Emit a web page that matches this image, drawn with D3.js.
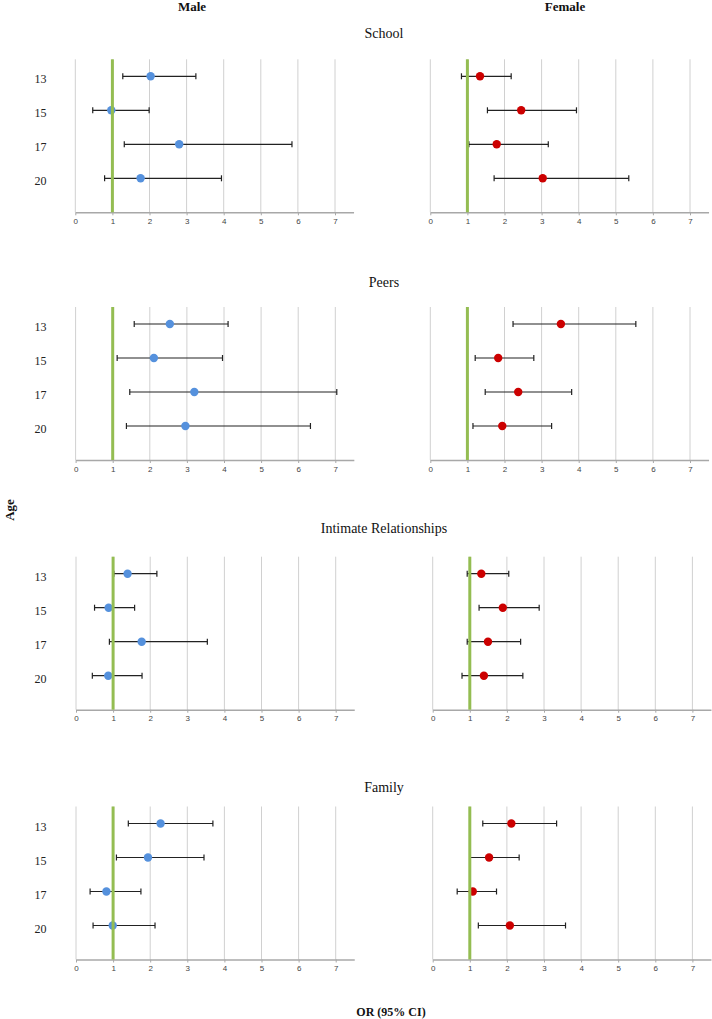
<!DOCTYPE html>
<html>
<head>
<meta charset="utf-8">
<script src="https://cdn.jsdelivr.net/npm/d3@7"></script>
<style>
  html, body { margin: 0; padding: 0; background: #fff; }
  svg { display: block; }
</style>
</head>
<body>
<svg id="chart" width="712" height="1019"></svg>
<script>
// ---------- data ----------
const ages = ["13", "15", "17", "20"];
const domains = ["School", "Peers", "Intimate Relationships", "Family"];
const sexes = ["Male", "Female"];
const xTicks = [0, 1, 2, 3, 4, 5, 6, 7];
const refValue = 1;

// each row: [OR, lower 95% CI, upper 95% CI], ages 13, 15, 17, 20
const maleSchool   = [[2.03, 1.28, 3.25], [0.97, 0.47, 1.99], [2.80, 1.32, 5.84], [1.76, 0.79, 3.94]];
const femaleSchool = [[1.34, 0.84, 2.18], [2.45, 1.54, 3.94], [1.79, 1.04, 3.18], [3.03, 1.72, 5.35]];
const malePeers    = [[2.54, 1.58, 4.11], [2.11, 1.12, 3.96], [3.20, 1.46, 7.04], [2.96, 1.37, 6.33]];
const femalePeers  = [[3.52, 2.23, 5.54], [1.83, 1.21, 2.79], [2.37, 1.48, 3.81], [1.94, 1.15, 3.27]];
const maleIntimate   = [[1.39, 1.02, 2.18], [0.88, 0.50, 1.58], [1.77, 0.90, 3.54], [0.87, 0.44, 1.78]];
const femaleIntimate = [[1.31, 0.93, 2.05], [1.89, 1.25, 2.87], [1.49, 0.93, 2.37], [1.38, 0.79, 2.43]];
const maleFamily   = [[2.28, 1.41, 3.69], [1.94, 1.09, 3.45], [0.82, 0.38, 1.75], [0.99, 0.46, 2.13]];
const femaleFamily = [[2.12, 1.35, 3.34], [1.52, 1.01, 2.33], [1.08, 0.66, 1.72], [2.08, 1.23, 3.58]];

const panelData = [
  [maleSchool, femaleSchool],
  [malePeers, femalePeers],
  [maleIntimate, femaleIntimate],
  [maleFamily, femaleFamily]
];

// ---------- layout / style ----------
const panelTops = [59.3, 307, 556.7, 806.5];
const titleY = [33, 282, 528, 787];
const panelX0 = [[75.3, 430.3], [75.6, 430.3], [76, 432.7], [76, 432.7]];
const unit = 37.1;
const plotH = 153;
const colors = ["#5591dd", "#cc0000"];
const serif = "'Liberation Serif', 'Times New Roman', serif";
const sans = "'Liberation Sans', Arial, sans-serif";

const svg = d3.select("#chart");

// headers
svg.selectAll("text.sex").data(sexes).join("text")
  .attr("class", "sex")
  .attr("x", (d, i) => i === 0 ? 192 : 565)
  .attr("y", 11)
  .attr("text-anchor", "middle")
  .style("font-family", serif).style("font-weight", "bold").style("font-size", "13px")
  .attr("fill", "#111")
  .text(d => d);

svg.append("text")
  .attr("transform", "translate(14,510) rotate(-90)")
  .attr("text-anchor", "middle")
  .style("font-family", serif).style("font-weight", "bold").style("font-size", "13px")
  .attr("fill", "#111")
  .text("Age");

svg.append("text")
  .attr("x", 391).attr("y", 1016)
  .attr("text-anchor", "middle")
  .style("font-family", serif).style("font-weight", "bold").style("font-size", "12px")
  .attr("fill", "#111")
  .text("OR (95% CI)");

domains.forEach((dom, r) => {
  const top = panelTops[r];
  svg.append("text")
    .attr("x", 384).attr("y", titleY[r] + 5)
    .attr("text-anchor", "middle")
    .style("font-family", serif).style("font-size", "14px")
    .attr("fill", "#111")
    .text(dom);

  [0, 1].forEach(s => {
    const x0 = panelX0[r][s];
    const x = d3.scaleLinear().domain([0, 7.5]).range([x0, x0 + 7.5 * unit]);
    const y = d3.scaleLinear().domain([-0.5, 4]).range([top, top + plotH]);
    const g = svg.append("g");
    const rows = panelData[r][s];

    // gridlines
    g.selectAll("line.grid").data(xTicks).join("line")
      .attr("x1", d => x(d)).attr("x2", d => x(d))
      .attr("y1", top).attr("y2", top + plotH)
      .attr("stroke", "#d0d0d0").attr("stroke-width", 1);

    // x axis
    const ax = g.append("g")
      .attr("transform", `translate(0,${top + plotH})`)
      .call(d3.axisBottom(x).tickValues(xTicks).tickSize(3).tickSizeOuter(0).tickPadding(3));
    ax.select(".domain").attr("stroke", "#a8a8a8").attr("stroke-width", 1.5);
    ax.selectAll(".tick line").attr("stroke", "#a8a8a8");
    ax.selectAll(".tick text")
      .style("font-family", sans).style("font-size", "8px").attr("fill", "#444");

    // row labels (male side only)
    if (s === 0) {
      g.selectAll("text.age").data(ages).join("text")
        .attr("x", 40.5).attr("y", (d, i) => y(i) + 7)
        .attr("text-anchor", "middle")
        .style("font-family", serif).style("font-size", "12px")
        .attr("fill", "#222")
        .text(d => d);
    }

    // error bars
    const eb = g.selectAll("g.eb").data(rows).join("g");
    eb.append("line")
      .attr("x1", d => x(d[1])).attr("x2", d => x(d[2]))
      .attr("y1", (d, i) => y(i)).attr("y2", (d, i) => y(i))
      .attr("stroke", "#222").attr("stroke-width", 1.2);
    eb.append("line")
      .attr("x1", d => x(d[1])).attr("x2", d => x(d[1]))
      .attr("y1", (d, i) => y(i) - 3).attr("y2", (d, i) => y(i) + 3)
      .attr("stroke", "#222").attr("stroke-width", 1.2);
    eb.append("line")
      .attr("x1", d => x(d[2])).attr("x2", d => x(d[2]))
      .attr("y1", (d, i) => y(i) - 3).attr("y2", (d, i) => y(i) + 3)
      .attr("stroke", "#222").attr("stroke-width", 1.2);

    // points
    g.selectAll("circle.pt").data(rows).join("circle")
      .attr("cx", d => x(d[0])).attr("cy", (d, i) => y(i))
      .attr("r", 4.2)
      .attr("fill", colors[s]);

    // reference line at OR = 1
    g.append("line")
      .attr("x1", x(refValue)).attr("x2", x(refValue))
      .attr("y1", top).attr("y2", top + plotH)
      .attr("stroke", "#94bd52").attr("stroke-width", 3);
  });
});
</script>
</body>
</html>
